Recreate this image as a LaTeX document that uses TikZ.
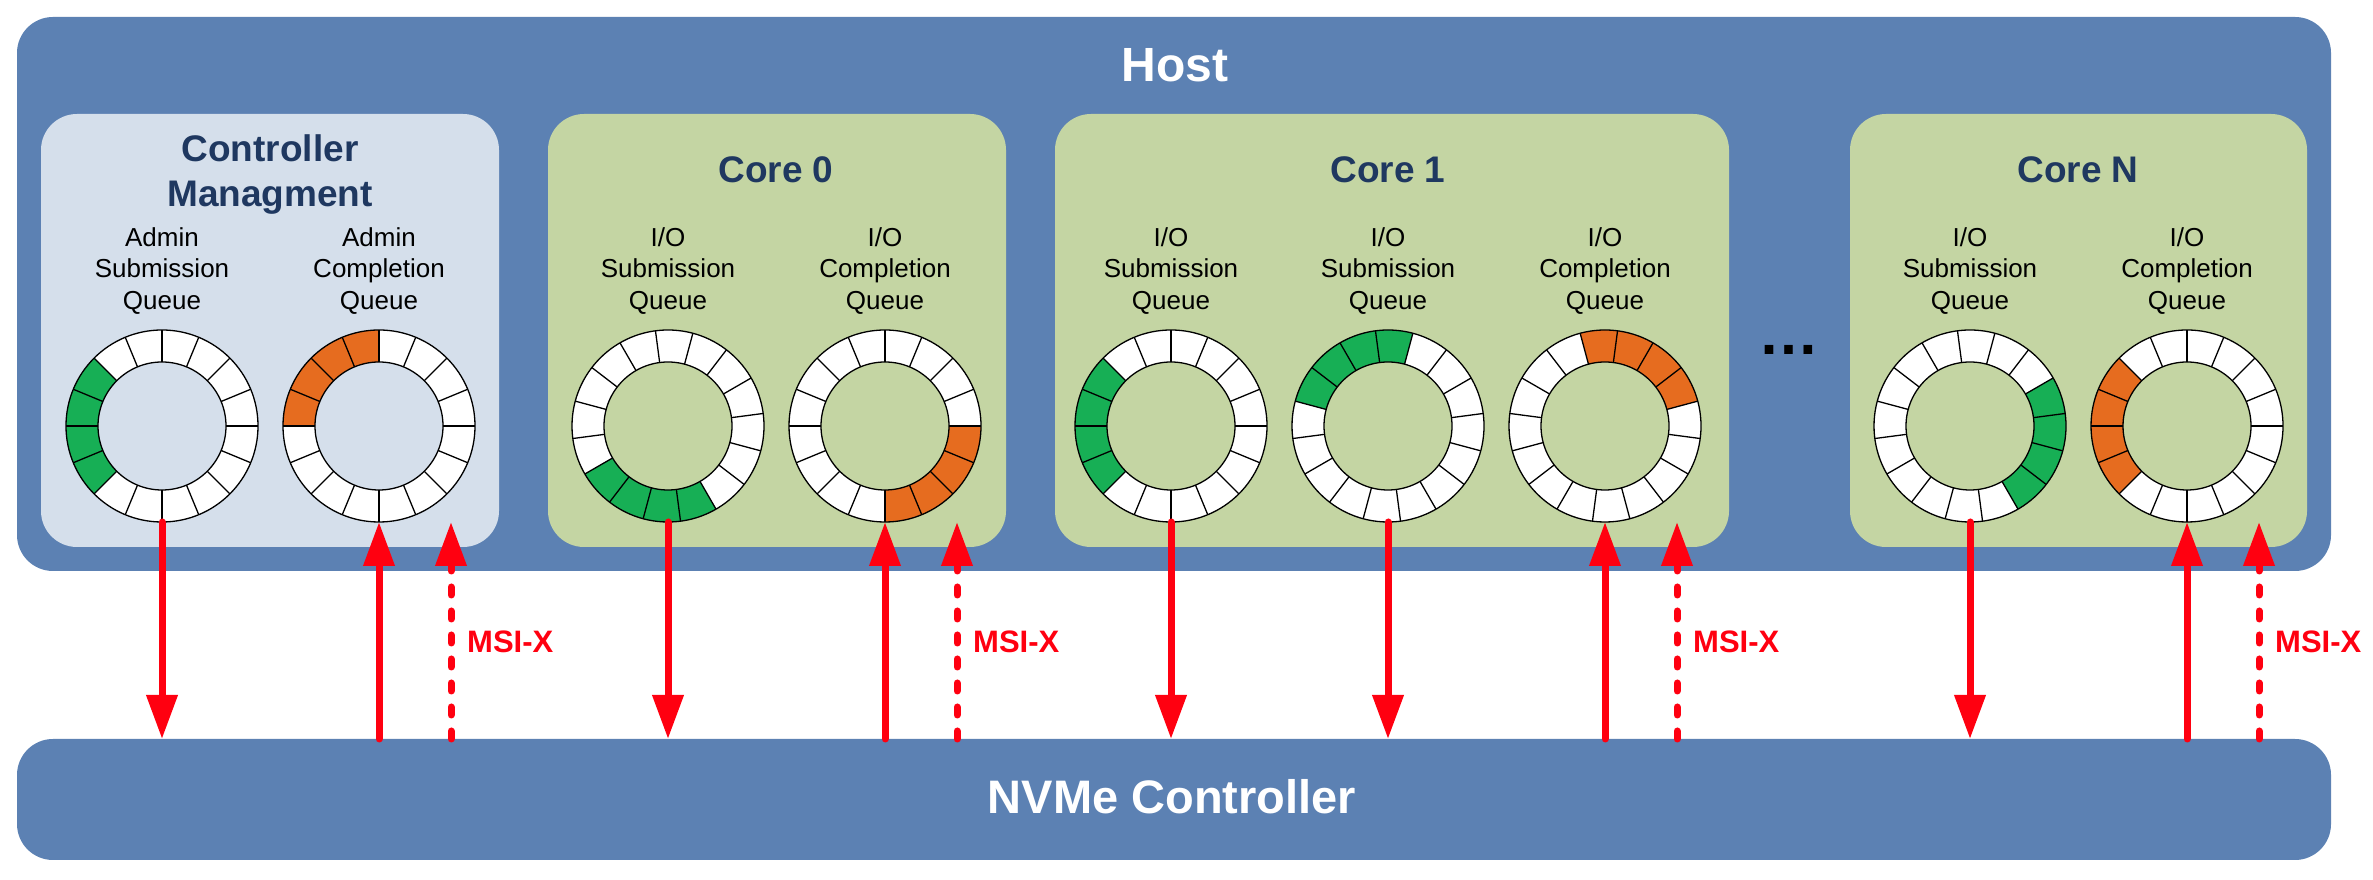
\documentclass[tikz,border=0pt]{standalone}
\usepackage{fontspec}
\setmainfont{Liberation Sans}
\usetikzlibrary{arrows.meta}
\definecolor{hostblue}{RGB}{92,129,179}
\definecolor{mgmtbg}{RGB}{213,223,235}
\definecolor{corebg}{RGB}{196,213,163}
\definecolor{qgreen}{RGB}{23,175,85}
\definecolor{qorange}{RGB}{230,108,31}
\definecolor{navy}{RGB}{31,56,96}
\definecolor{arrred}{RGB}{255,0,16}
\tikzset{
  panel/.style={inner sep=0pt, outer sep=0pt, rounded corners=36pt},
  qnode/.style={circle, inner sep=0pt, outer sep=0pt, minimum size=192pt},
  ringline/.style={draw=black, line width=1.3pt},
  flow/.style={draw=arrred, line width=7pt, line cap=round, -{Triangle[length=44pt,width=30pt]}},
  msiflow/.style={flow, dash pattern=on 8pt off 16pt},
  msilab/.style={text=arrred, font=\fontsize{31pt}{36pt}\selectfont\bfseries, inner sep=0pt, anchor=base west},
  qlab/.style={font=\fontsize{26pt}{31.5pt}\selectfont, align=center, anchor=base, inner sep=0pt},
  ptitle/.style={text=navy, font=\fontsize{37pt}{45pt}\selectfont\bfseries, align=center, anchor=base, inner sep=0pt},
  btitle/.style={text=white, font=\fontsize{48pt}{56pt}\selectfont\bfseries, anchor=base, inner sep=0pt}
}
% #1 x, #2 y, #3 rotation of the dividers, #4 start angle, #5 end angle, #6 colour
\newcommand{\qring}[6]{%
  \begin{scope}[shift={(#1,#2)}]
    \fill[white, even odd rule] (0,0) circle[radius=96] (0,0) circle[radius=64];
    \fill[#6] (#4:96) arc[start angle=#4, end angle=#5, radius=96]
      -- (#5:64) arc[start angle=#5, end angle=#4, radius=64] -- cycle;
    \foreach \k in {0,...,15} {\draw[ringline] ({#3+22.5*\k}:64) -- ({#3+22.5*\k}:96);}
    \draw[ringline] (0,0) circle[radius=96] (0,0) circle[radius=64];
  \end{scope}}
\begin{document}
\begin{tikzpicture}[x=1pt,y=1pt]
\useasboundingbox (0,0) rectangle (2373,880);
% big boxes
\node[panel, fill=hostblue, minimum width=2314pt, minimum height=554pt] (host) at (1174,586) {};
\node[panel, fill=hostblue, minimum width=2314pt, minimum height=121pt] (nvme) at (1174,80.5) {};
\node[btitle] (hosttitle) at (1175,798) {Host};
\node[btitle, font=\fontsize{47pt}{56pt}\selectfont\bfseries] (nvmetitle) at (1172,66) {NVMe Controller};
% panels
\node[panel, fill=mgmtbg, minimum width=458pt, minimum height=433pt] (mgmt) at (270,549.5) {};
\node[panel, fill=corebg, minimum width=458pt, minimum height=433pt] (core0) at (777,549.5) {};
\node[panel, fill=corebg, minimum width=674pt, minimum height=433pt] (core1) at (1392,549.5) {};
\node[panel, fill=corebg, minimum width=457pt, minimum height=433pt] (coreN) at (2078.5,549.5) {};
\node[ptitle] (mgmttitle) at (270,673) {Controller\\Managment};
\node[ptitle] (core0title) at (776,697) {Core 0};
\node[ptitle] (core1title) at (1388,697) {Core 1};
\node[ptitle] (coreNtitle) at (2078,697) {Core N};
\node[font=\fontsize{61pt}{70pt}\selectfont\bfseries, anchor=base, inner sep=0pt] (dots) at (1789,525) {…};
% queue labels
\node[qlab] (asqt) at (162,570.5) {Admin\\Submission\\Queue};
\node[qlab] (acqt) at (379,570.5) {Admin\\Completion\\Queue};
\node[qlab] (c0sqt) at (668,570.5) {I/O\\Submission\\Queue};
\node[qlab] (c0cqt) at (885,570.5) {I/O\\Completion\\Queue};
\node[qlab] (c1sqat) at (1171,570.5) {I/O\\Submission\\Queue};
\node[qlab] (c1sqbt) at (1388,570.5) {I/O\\Submission\\Queue};
\node[qlab] (c1cqt) at (1605,570.5) {I/O\\Completion\\Queue};
\node[qlab] (cNsqt) at (1970,570.5) {I/O\\Submission\\Queue};
\node[qlab] (cNcqt) at (2187,570.5) {I/O\\Completion\\Queue};
% rings
\node[qnode] (asq) at (162,454) {};
\node[qnode] (acq) at (379,454) {};
\node[qnode] (c0sq) at (668,454) {};
\node[qnode] (c0cq) at (885,454) {};
\node[qnode] (c1sqa) at (1171,454) {};
\node[qnode] (c1sqb) at (1388,454) {};
\node[qnode] (c1cq) at (1605,454) {};
\node[qnode] (cNsq) at (1970,454) {};
\node[qnode] (cNcq) at (2187,454) {};
\qring{162}{454}{0}{135}{225}{qgreen}
\qring{379}{454}{0}{90}{180}{qorange}
\qring{668}{454}{7.5}{210}{300}{qgreen}
\qring{885}{454}{0}{270}{360}{qorange}
\qring{1171}{454}{0}{135}{225}{qgreen}
\qring{1388}{454}{7.5}{75}{165}{qgreen}
\qring{1605}{454}{15}{15}{105}{qorange}
\qring{1970}{454}{7.5}{-60}{30}{qgreen}
\qring{2187}{454}{0}{135}{225}{qorange}
% MSI-X anchor points
\coordinate (acqm) at ([xshift=72pt]acq.south);
\coordinate (c0cqm) at ([xshift=72pt]c0cq.south);
\coordinate (c1cqm) at ([xshift=72pt]c1cq.south);
\coordinate (cNcqm) at ([xshift=72pt]cNcq.south);
% submissions (host -> controller)
\draw[flow] (asq.south) -- (asq.south |- nvme.north);
\draw[flow] (c0sq.south) -- (c0sq.south |- nvme.north);
\draw[flow] (c1sqa.south) -- (c1sqa.south |- nvme.north);
\draw[flow] (c1sqb.south) -- (c1sqb.south |- nvme.north);
\draw[flow] (cNsq.south) -- (cNsq.south |- nvme.north);
% completions (controller -> host)
\draw[flow] (acq.south |- nvme.north) -- (acq.south);
\draw[flow] (c0cq.south |- nvme.north) -- (c0cq.south);
\draw[flow] (c1cq.south |- nvme.north) -- (c1cq.south);
\draw[flow] (cNcq.south |- nvme.north) -- (cNcq.south);
% interrupts
\draw[msiflow] (acqm |- nvme.north) -- (acqm);
\draw[msiflow] (c0cqm |- nvme.north) -- (c0cqm);
\draw[msiflow] (c1cqm |- nvme.north) -- (c1cqm);
\draw[msiflow] (cNcqm |- nvme.north) -- (cNcqm);
\node[msilab] (msi0) at (467,227) {MSI-X};
\node[msilab] (msi1) at (973,227) {MSI-X};
\node[msilab] (msi2) at (1693,227) {MSI-X};
\node[msilab] (msi3) at (2275,227) {MSI-X};
\end{tikzpicture}
\end{document}
